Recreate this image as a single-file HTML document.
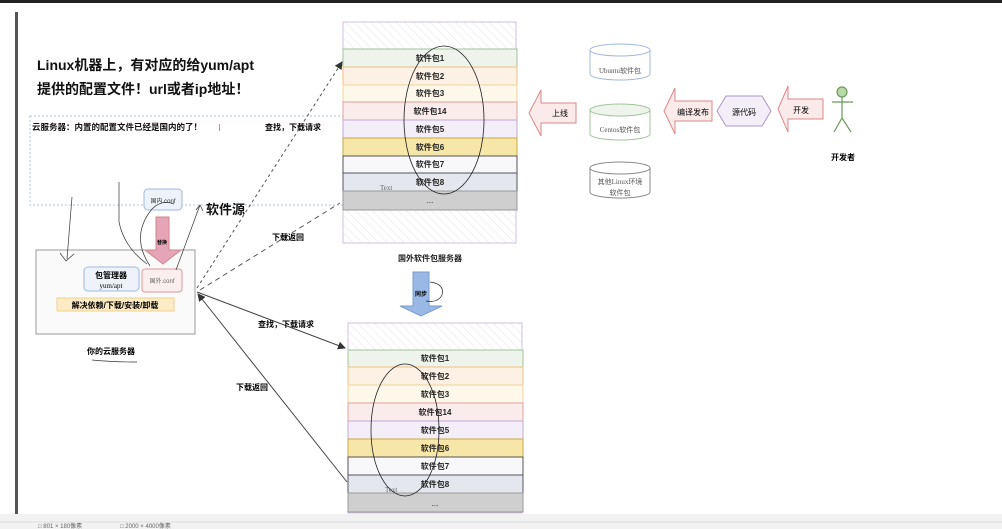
<!DOCTYPE html>
<html><head><meta charset="utf-8"><style>
html,body{margin:0;padding:0;background:#fff;}
svg{display:block;font-family:"Liberation Sans","Noto Sans CJK SC",sans-serif;}
</style></head><body>
<svg width="1002" height="529" viewBox="0 0 1002 529" xmlns="http://www.w3.org/2000/svg">
<defs>
<pattern id="h" width="6" height="6" patternUnits="userSpaceOnUse" patternTransform="rotate(-45)"><line x1="0" y1="0" x2="0" y2="6" stroke="#e6e6ea" stroke-width="1"/></pattern>
<marker id="ar" markerWidth="8" markerHeight="8" refX="7" refY="4" orient="auto"><path d="M0,0 L8,4 L0,8 z" fill="#333"/></marker>
</defs>
<rect width="1002" height="529" fill="#fff"/>
<rect x="0" y="0" width="1002" height="3" fill="#222"/>
<rect x="15" y="12" width="3" height="502" fill="#555"/>
<rect x="0" y="514" width="1002" height="15" fill="#f2f2f2"/>
<line x1="0" y1="522" x2="1002" y2="522" stroke="#ddd"/>
<text x="38" y="528" font-size="6" fill="#666">□ 801 × 180像素</text>
<text x="120" y="528" font-size="6" fill="#666">□ 2000 × 4000像素</text>

<text x="37" y="70" font-size="14" font-weight="bold" fill="#111">Linux机器上，有对应的给yum/apt</text>
<text x="37" y="94" font-size="14" font-weight="bold" fill="#111">提供的配置文件！url或者ip地址！</text>

<rect x="30" y="116" width="480" height="89" fill="none" stroke="#a8c4e0" stroke-dasharray="2,2"/>
<text x="32" y="130" font-size="8.5" font-weight="bold" fill="#111">云服务器：内置的配置文件已经是国内的了！</text>
<text x="218" y="131" font-size="10" fill="#999">I</text>

<rect x="343" y="22" width="173" height="221" fill="url(#h)" stroke="#d0c0e0"/>
<g font-size="8" font-weight="bold" fill="#222" text-anchor="middle">
<rect x="343" y="49" width="174" height="18" fill="#eef4ec" stroke="#9fc49a"/><text x="430" y="61">软件包1</text>
<rect x="343" y="67" width="174" height="18" fill="#fdf0e4" stroke="#f0c080"/><text x="430" y="79">软件包2</text>
<rect x="343" y="85" width="174" height="17" fill="#fdf8ea" stroke="#eed498"/><text x="430" y="96">软件包3</text>
<rect x="343" y="102" width="174" height="18" fill="#fbecec" stroke="#e0a0a0"/><text x="430" y="114">软件包14</text>
<rect x="343" y="120" width="174" height="18" fill="#f3eef8" stroke="#c0a8d8"/><text x="430" y="132">软件包5</text>
<rect x="343" y="138" width="174" height="18" fill="#f6e6a8" stroke="#c8a840"/><text x="430" y="150">软件包6</text>
<rect x="343" y="156" width="174" height="17" fill="#f8f8fb" stroke="#555"/><text x="430" y="167">软件包7</text>
<rect x="343" y="173" width="174" height="18" fill="#e4e8ee" stroke="#556"/><text x="430" y="185">软件包8</text>
<rect x="343" y="191" width="174" height="19" fill="#cfcfcf" stroke="#999"/><text x="430" y="203" font-weight="normal">...</text>
</g>
<text x="380" y="190" font-size="7" fill="#666" font-family="Liberation Serif">Text</text>
<ellipse cx="444" cy="120" rx="40" ry="74" fill="none" stroke="#222" stroke-width="0.8"/>
<text x="430" y="261" font-size="8" font-weight="bold" fill="#222" text-anchor="middle">国外软件包服务器</text>

<rect x="348" y="323" width="174" height="190" fill="url(#h)" stroke="#d0c0e0"/>
<g font-size="8" font-weight="bold" fill="#222" text-anchor="middle">
<rect x="348" y="350" width="175" height="17" fill="#eef4ec" stroke="#9fc49a"/><text x="435" y="361">软件包1</text>
<rect x="348" y="367" width="175" height="18" fill="#fdf0e4" stroke="#f0c080"/><text x="435" y="379">软件包2</text>
<rect x="348" y="385" width="175" height="18" fill="#fdf8ea" stroke="#eed498"/><text x="435" y="397">软件包3</text>
<rect x="348" y="403" width="175" height="18" fill="#fbecec" stroke="#e0a0a0"/><text x="435" y="415">软件包14</text>
<rect x="348" y="421" width="175" height="18" fill="#f3eef8" stroke="#c0a8d8"/><text x="435" y="433">软件包5</text>
<rect x="348" y="439" width="175" height="18" fill="#f6e6a8" stroke="#c8a840"/><text x="435" y="451">软件包6</text>
<rect x="348" y="457" width="175" height="18" fill="#f8f8fb" stroke="#555"/><text x="435" y="469">软件包7</text>
<rect x="348" y="475" width="175" height="18" fill="#e4e8ee" stroke="#556"/><text x="435" y="487">软件包8</text>
<rect x="348" y="493" width="175" height="19" fill="#cfcfcf" stroke="#999"/><text x="435" y="506" font-weight="normal">...</text>
</g>
<text x="385" y="492" font-size="7" fill="#666" font-family="Liberation Serif">Text</text>
<ellipse cx="405" cy="430" rx="34" ry="66" fill="none" stroke="#222" stroke-width="0.8"/>

<path d="M413,272 h16 v34 h13 l-21,10 l-21,-10 h13 z" fill="#9ab8e6" stroke="#7a9ccc"/>
<text x="421" y="296" font-size="6" font-weight="bold" text-anchor="middle">同步</text>
<path d="M430,282 q15,2 12,13 q-4,8 -16,6" fill="none" stroke="#222" stroke-width="0.7"/>

<rect x="36" y="250" width="159" height="84" fill="#fafafa" stroke="#999"/>
<rect x="84" y="267" width="55" height="24" rx="4" fill="#eef3fb" stroke="#9fb8de"/>
<text x="111" y="278" font-size="8" font-weight="bold" text-anchor="middle">包管理器</text>
<text x="111" y="288" font-size="7" text-anchor="middle" font-family="Liberation Serif">yum/apt</text>
<rect x="142" y="269" width="40" height="23" rx="3" fill="#fbeeee" stroke="#d99"/>
<text x="162" y="283" font-size="6" fill="#666" text-anchor="middle">国外.conf</text>
<rect x="57" y="298" width="117" height="13" fill="#fcebc4" stroke="#edd090"/>
<text x="115" y="308" font-size="8" font-weight="bold" text-anchor="middle">解决依赖/下载/安装/卸载</text>
<text x="111" y="354" font-size="8" font-weight="bold" text-anchor="middle">你的云服务器</text>
<path d="M92,360 q20,2 45,2" fill="none" stroke="#333" stroke-width="0.7"/>

<rect x="144" y="189" width="38" height="21" rx="4" fill="#eef3fb" stroke="#9fb8de"/>
<text x="163" y="203" font-size="6" fill="#333" text-anchor="middle">国内.conf</text>
<path d="M156,217 h13 v33 h12 l-18,14 l-18,-14 h11 z" fill="#e6a4b8" stroke="#c88"/>
<text x="162" y="244" font-size="5" font-weight="bold" text-anchor="middle">替换</text>
<text x="206" y="214" font-size="13" font-weight="bold" fill="#111">软件源</text>
<path d="M72,197 l-5,62 M60,253 l6,8 l8,-7" fill="none" stroke="#333" stroke-width="0.7"/>
<path d="M119,182 v40 q5,25 28,42" fill="none" stroke="#333" stroke-width="0.7"/>
<path d="M150,266 q-20,-30 2,-57 q10,-10 22,-5" fill="none" stroke="#333" stroke-width="0.7"/>
<path d="M176,270 l24,-65 M196,210 l4,-5 l3,6" fill="none" stroke="#333" stroke-width="0.7"/>

<line x1="197" y1="288" x2="342" y2="62" stroke="#555" stroke-dasharray="3,3" marker-end="url(#ar)"/>
<line x1="200" y1="290" x2="340" y2="203" stroke="#555" stroke-dasharray="5,4"/>
<line x1="197" y1="292" x2="345" y2="348" stroke="#444" marker-end="url(#ar)"/>
<line x1="347" y1="482" x2="198" y2="294" stroke="#444" marker-end="url(#ar)"/>
<text x="265" y="130" font-size="8" font-weight="bold">查找，下载请求</text>
<text x="272" y="240" font-size="8" font-weight="bold">下载返回</text>
<text x="258" y="327" font-size="8" font-weight="bold">查找，下载请求</text>
<text x="236" y="390" font-size="8" font-weight="bold">下载返回</text>

<g font-size="7" fill="#555" text-anchor="middle" font-family="Liberation Serif,Noto Sans CJK SC,sans-serif">
<path d="M590,50 v24 a30,6 0 0 0 60,0 v-24" fill="#fff" stroke="#9fb8de"/><ellipse cx="620" cy="50" rx="30" ry="6" fill="#fff" stroke="#9fb8de"/><text x="620" y="73">Ubuntu软件包</text>
<path d="M590,110 v24 a30,6 0 0 0 60,0 v-24" fill="#fff" stroke="#9fc49a"/><ellipse cx="620" cy="110" rx="30" ry="6" fill="#eef4ec" stroke="#9fc49a"/><text x="620" y="132">Centos软件包</text>
<path d="M590,168 v24 a30,6 0 0 0 60,0 v-24" fill="#fff" stroke="#888"/><ellipse cx="620" cy="168" rx="30" ry="6" fill="#fff" stroke="#888"/><text x="620" y="184">其他Linux环境</text><text x="620" y="195">软件包</text>
</g>
<g fill="#fbeaea" stroke="#d88" font-size="8" text-anchor="middle">
<path d="M529,113 l12,-23 v13 h35 v20 h-35 v13 z"/>
<path d="M664,111 l11,-23 v13 h37 v20 h-37 v13 z"/>
<path d="M778,109 l10,-23 v13 h35 v20 h-35 v13 z"/>
</g>
<text x="552" y="116" font-size="8">上线</text>
<text x="677" y="115" font-size="8">编译发布</text>
<text x="793" y="113" font-size="8">开发</text>
<path d="M717,111 l9,-15 h36 l9,15 l-9,15 h-36 z" fill="#f3eef8" stroke="#a898c8"/>
<text x="744" y="115" font-size="8" text-anchor="middle">源代码</text>
<g stroke="#6a9a5a" stroke-width="1.2" fill="none">
<circle cx="842" cy="92" r="5" fill="#b8d8a8"/>
<line x1="842" y1="97" x2="842" y2="118"/><line x1="832" y1="102" x2="853" y2="102"/>
<line x1="842" y1="118" x2="834" y2="132"/><line x1="842" y1="118" x2="851" y2="132"/>
</g>
<text x="843" y="160" font-size="8" font-weight="bold" text-anchor="middle">开发者</text>
</svg>
</body></html>
